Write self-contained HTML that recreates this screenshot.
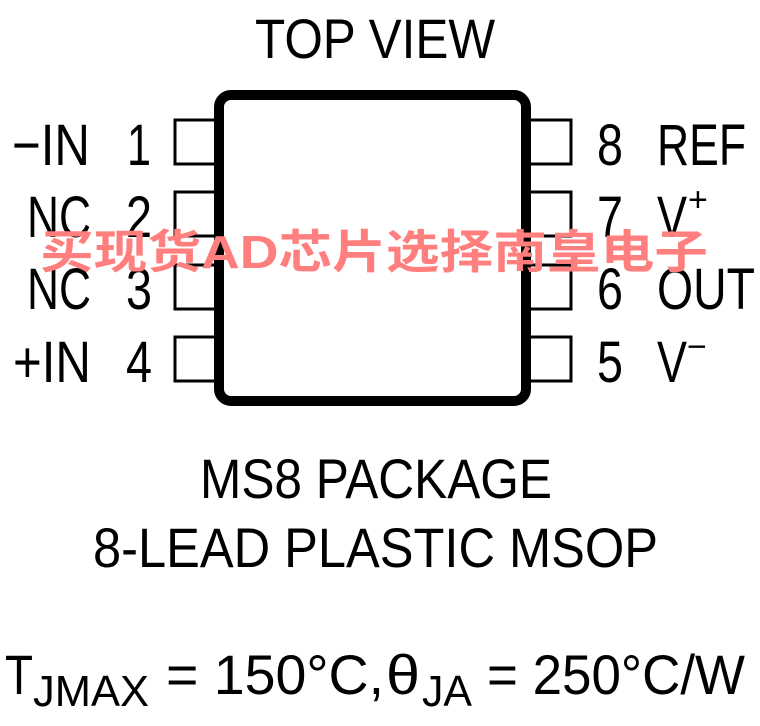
<!DOCTYPE html>
<html><head><meta charset="utf-8"><style>
html,body{margin:0;padding:0;background:#fff;}
svg{display:block}
text{font-family:"Liberation Sans Narrow","Liberation Sans",sans-serif;fill:#000;}
</style></head><body>
<svg width="760" height="726" viewBox="0 0 760 726" xmlns="http://www.w3.org/2000/svg">
<text x="255" y="58" font-size="56" textLength="240" lengthAdjust="spacingAndGlyphs">TOP VIEW</text>
<rect x="219" y="95" width="307" height="306" rx="12" fill="#fff" stroke="#000" stroke-width="10"/>
<g fill="none" stroke="#000" stroke-width="3">
<path d="M214 120 H175 V164 H214"/>
<path d="M214 192 H175 V236 H214"/>
<path d="M214 265 H175 V309 H214"/>
<path d="M214 337 H175 V381 H214"/>
<path d="M531 120 H571 V164 H531"/>
<path d="M531 192 H571 V236 H531"/>
<path d="M531 265 H571 V309 H531"/>
<path d="M531 337 H571 V381 H531"/>
</g>
<g font-size="58">
<text x="12" y="165" textLength="78" lengthAdjust="spacingAndGlyphs">−IN</text>
<text x="127" y="165" textLength="24" lengthAdjust="spacingAndGlyphs">1</text>
<text x="27" y="237" textLength="64" lengthAdjust="spacingAndGlyphs">NC</text>
<text x="126" y="237" textLength="26" lengthAdjust="spacingAndGlyphs">2</text>
<text x="27" y="309" textLength="64" lengthAdjust="spacingAndGlyphs">NC</text>
<text x="126" y="309" textLength="26" lengthAdjust="spacingAndGlyphs">3</text>
<text x="13" y="382" textLength="78" lengthAdjust="spacingAndGlyphs">+IN</text>
<text x="126" y="382" textLength="26" lengthAdjust="spacingAndGlyphs">4</text>
<text x="597" y="165" textLength="26" lengthAdjust="spacingAndGlyphs">8</text>
<text x="657" y="165" textLength="89" lengthAdjust="spacingAndGlyphs">REF</text>
<text x="597" y="237" textLength="26" lengthAdjust="spacingAndGlyphs">7</text>
<text x="657" y="237" textLength="30" lengthAdjust="spacingAndGlyphs">V</text>
<text x="688" y="211" font-size="34">+</text>
<text x="597" y="309" textLength="26" lengthAdjust="spacingAndGlyphs">6</text>
<text x="657" y="309" textLength="98" lengthAdjust="spacingAndGlyphs">OUT</text>
<text x="597" y="382" textLength="26" lengthAdjust="spacingAndGlyphs">5</text>
<text x="657" y="382" textLength="30" lengthAdjust="spacingAndGlyphs">V</text>
<text x="687" y="358" font-size="34">−</text>
</g>
<text x="40" y="268" font-size="46" font-weight="bold" style="font-family:'Liberation Sans','Noto Sans CJK SC',sans-serif;fill:#ff7f7f" textLength="668" lengthAdjust="spacingAndGlyphs">买现货AD芯片选择南皇电子</text>
<text x="200" y="498" font-size="56" textLength="352" lengthAdjust="spacingAndGlyphs">MS8 PACKAGE</text>
<text x="93" y="567" font-size="56" textLength="565" lengthAdjust="spacingAndGlyphs">8-LEAD PLASTIC MSOP</text>
<text x="5" y="694" font-size="56" textLength="28" lengthAdjust="spacingAndGlyphs">T</text>
<text x="33" y="706" font-size="44" textLength="116" lengthAdjust="spacingAndGlyphs">JMAX</text>
<text x="166" y="694" font-size="56" textLength="218" lengthAdjust="spacingAndGlyphs">= 150°C,</text>
<text x="386" y="694" font-size="56" textLength="34" lengthAdjust="spacingAndGlyphs">θ</text>
<text x="422" y="706" font-size="44" textLength="50" lengthAdjust="spacingAndGlyphs">JA</text>
<text x="487" y="694" font-size="56" textLength="258" lengthAdjust="spacingAndGlyphs">= 250°C/W</text>
</svg>
</body></html>
